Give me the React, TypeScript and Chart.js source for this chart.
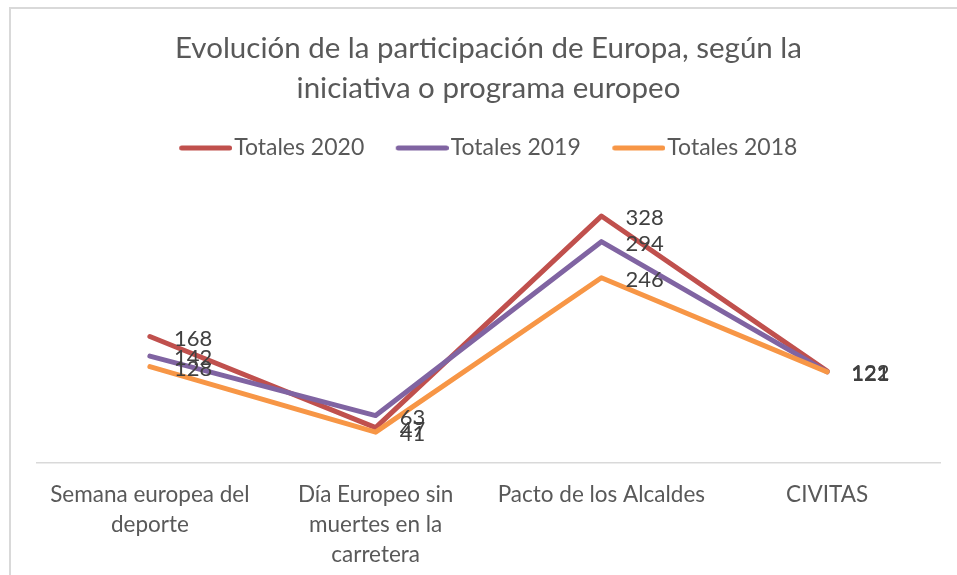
import React, { useEffect, useRef } from "react";
import { Chart, registerables } from "chart.js";

Chart.register(...registerables);

const FONT = "Lato, 'Open Sans', sans-serif";

const titleLines = [
  "Evolución de la participación de Europa, según la",
  "iniciativa o programa europeo",
];
const categories: (string | string[])[] = [
  ["Semana europea del", "deporte"],
  ["Día Europeo sin", "muertes en la", "carretera"],
  "Pacto de los Alcaldes",
  "CIVITAS",
];
const seriesNames = ["Totales 2020", "Totales 2019", "Totales 2018"];
const totales2020 = [168, 47, 328, 122];
const totales2019 = [142, 63, 294, 121];
const totales2018 = [128, 41, 246, 121];
const seriesColors = ["#C0504D", "#8064A2", "#F79646"];
const yMin = 0;
const yMax = 350;

const frame = {
  id: "frame",
  beforeDraw(chart: any) {
    const ctx = chart.ctx;
    ctx.save();
    ctx.fillStyle = "#ffffff";
    ctx.fillRect(0, 0, chart.width, chart.height);
    ctx.fillStyle = "#d9d9d9";
    ctx.fillRect(9, 7, 2, chart.height);
    ctx.fillRect(9, 7, chart.width, 2);
    ctx.restore();
  },
};

const legendGap = {
  id: "legendGap",
  beforeInit(chart: any) {
    const lg = chart.legend;
    if (!lg) return;
    const orig = lg.fit;
    lg.fit = function () {
      orig.call(this);
      this.height += 30;
    };
  },
};

const dataLabels = {
  id: "dataLabels",
  afterDatasetsDraw(chart: any) {
    const ctx = chart.ctx;
    ctx.save();
    ctx.font = `22px ${FONT}`;
    ctx.fillStyle = "#404040";
    ctx.textBaseline = "middle";
    ctx.textAlign = "left";
    chart.data.datasets.forEach((ds: any, i: number) => {
      const meta = chart.getDatasetMeta(i);
      meta.data.forEach((pt: any, j: number) => {
        ctx.fillText(String(ds.data[j]), pt.x + 24, pt.y + 2);
      });
    });
    ctx.restore();
  },
};

// legend swatch: a 53px line ending just before the text
function makeSwatch(color: string) {
  const c = document.createElement("canvas");
  c.width = 62;
  c.height = 8;
  const g = c.getContext("2d")!;
  g.strokeStyle = color;
  g.lineWidth = 5;
  g.lineCap = "round";
  g.beginPath();
  g.moveTo(11.5, 4);
  g.lineTo(59.5, 4);
  g.stroke();
  return c;
}

export default function App() {
  const ref = useRef<HTMLCanvasElement | null>(null);

  useEffect(() => {
    if (!ref.current) return;
    const values = [totales2020, totales2019, totales2018];
    const chart = new Chart(ref.current, {
      type: "line",
      data: {
        labels: categories,
        datasets: values.map((v, i) => ({
          label: seriesNames[i],
          data: v,
          borderColor: seriesColors[i],
          backgroundColor: seriesColors[i],
          borderWidth: 5,
          borderCapStyle: "round",
          borderJoinStyle: "round",
          pointRadius: 0,
          pointStyle: makeSwatch(seriesColors[i]),
          tension: 0,
          fill: false,
          order: values.length - 1 - i,
        })),
      },
      options: {
        animation: false,
        responsive: false,
        layout: { padding: { left: 37, right: 17, top: 8, bottom: -12 } },
        plugins: {
          tooltip: { enabled: false },
          title: {
            display: true,
            text: titleLines,
            color: "#595959",
            font: { family: FONT, size: 29.5, weight: "normal", lineHeight: "40px" },
            padding: { top: 20, bottom: -3.5 },
          },
          legend: {
            display: true,
            position: "top",
            labels: {
              usePointStyle: true,
              pointStyleWidth: 43,
              color: "#595959",
              font: { family: FONT, size: 23 },
              padding: 32,
              sort: (a: any, b: any) => a.datasetIndex - b.datasetIndex,
            },
          },
        },
        scales: {
          x: {
            offset: true,
            grid: { display: false, drawTicks: false },
            border: { display: true, color: "#d9d9d9", width: 1.5 },
            ticks: {
              color: "#595959",
              font: { family: FONT, size: 22.5, lineHeight: "30px" },
              padding: 17,
              maxRotation: 0,
              autoSkip: false,
            },
          },
          y: {
            display: false,
            min: yMin,
            max: yMax,
          },
        },
      },
      plugins: [frame, legendGap, dataLabels],
    } as any);
    return () => chart.destroy();
  }, []);

  return (
    <div style={{ position: "fixed", left: 0, top: 0, width: 957, height: 575, background: "#fff" }}>
      <canvas ref={ref} width={957} height={575} style={{ display: "block" }} />
    </div>
  );
}
